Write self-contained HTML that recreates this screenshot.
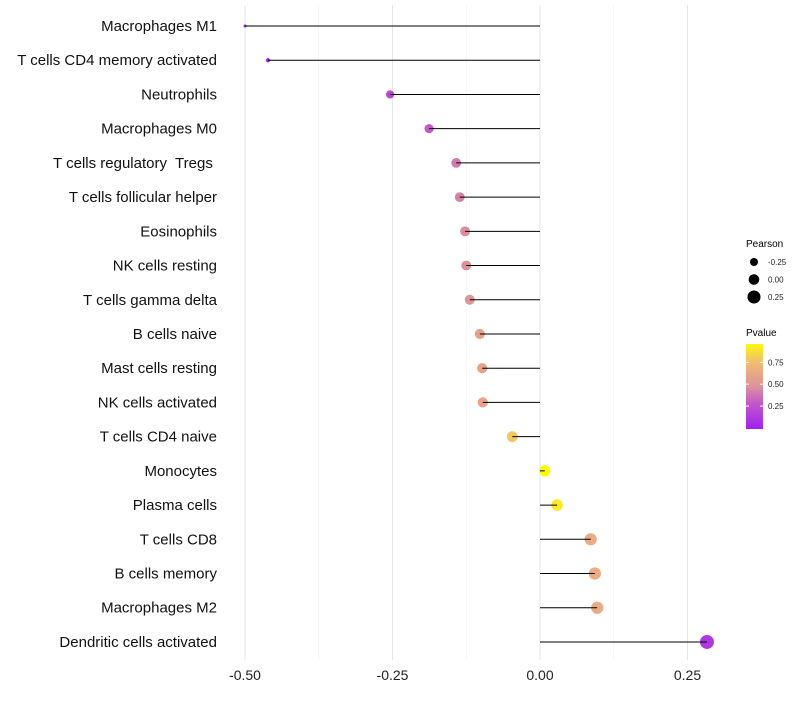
<!DOCTYPE html>
<html><head><meta charset="utf-8"><style>
body{margin:0;background:#fff;font-family:"Liberation Sans",sans-serif}
</style></head><body>
<svg id="c" width="800" height="700" xmlns="http://www.w3.org/2000/svg"></svg>
<script>
const categories=["Macrophages M1","T cells CD4 memory activated","Neutrophils","Macrophages M0","T cells regulatory  Tregs ","T cells follicular helper","Eosinophils","NK cells resting","T cells gamma delta","B cells naive","Mast cells resting","NK cells activated","T cells CD4 naive","Monocytes","Plasma cells","T cells CD8","B cells memory","Macrophages M2","Dendritic cells activated"];
const pearson=[-0.50,-0.461,-0.254,-0.188,-0.142,-0.136,-0.127,-0.125,-0.119,-0.102,-0.098,-0.097,-0.047,0.008,0.029,0.086,0.093,0.097,0.283];
const pvalue=[0.01,0.02,0.2,0.3,0.4,0.43,0.47,0.48,0.5,0.58,0.6,0.61,0.8,0.98,0.92,0.66,0.66,0.65,0.12];
const xTicks=[-0.5,-0.25,0,0.25];
const xTickLabels=["-0.50","-0.25","0.00","0.25"];
const sizeLegend=[-0.25,0,0.25];
const colorTicks=[0.25,0.5,0.75];
const NS="http://www.w3.org/2000/svg",svg=document.getElementById('c');
const x=v=>540+v*590, y=i=>26+i*34.22;
const rad=v=>{const t=(v+0.5)/0.783;return Math.sqrt(2.25+46.75*t);};
const stops=[[0,[160,32,240]],[0.3,[195,90,200]],[0.5,[222,150,150]],[0.75,[240,185,120]],[1,[255,255,0]]];
function col(p){p=Math.max(0,Math.min(1,p));for(let k=1;k<stops.length;k++){if(p<=stops[k][0]){const a=stops[k-1],b=stops[k],t=(p-a[0])/(b[0]-a[0]);return 'rgb('+a[1].map((c,j)=>Math.round(c+(b[1][j]-c)*t)).join(',')+')';}}}
function el(t,a,txt){const e=document.createElementNS(NS,t);for(const k in a)e.setAttribute(k,a[k]);if(txt!=null)e.textContent=txt;svg.appendChild(e);return e;}
for(let v=-0.5;v<=0.26;v+=0.125){const major=Math.abs((v*4)%1)<1e-6;const g=el('line',{x1:x(v),x2:x(v),y1:5,y2:660,stroke:major?'#e6e6e6':'#f0f0f0','stroke-width':major?1:0.6});

}
xTicks.forEach((v,i)=>{const t=el('text',{x:x(v),y:680,'text-anchor':'middle','font-size':14,fill:'#222'},xTickLabels[i]);

});
categories.forEach((c,i)=>{
const t=el('text',{x:217,y:y(i)+5,'text-anchor':'end','font-size':15,fill:'#111','xml:space':'preserve',style:'white-space:pre'},c);


const d=el('circle',{cx:x(pearson[i]),cy:y(i),r:rad(pearson[i]),fill:col(pvalue[i])});


const l=el('line',{x1:x(0),x2:x(pearson[i]),y1:y(i),y2:y(i),stroke:'#000','stroke-width':1});


});
let lt=el('text',{x:746,y:247,'font-size':10,fill:'#000'},'Pearson');


sizeLegend.forEach((v,i)=>{const cy=262+i*17.5;
const c=el('circle',{cx:754,cy:cy,r:[4,5.3,6.5][i],fill:'#000'});


const t=el('text',{x:768,y:cy+3,'font-size':8,fill:'#222'},['-0.25','0.00','0.25'][i]);

});
lt=el('text',{x:746,y:336,'font-size':10,fill:'#000'},'Pvalue');


const defs=el('defs',{});const g=document.createElementNS(NS,'linearGradient');g.setAttribute('id','gr');g.setAttribute('x1','0');g.setAttribute('y1','1');g.setAttribute('x2','0');g.setAttribute('y2','0');
for(let k=0;k<=10;k++){const s=document.createElementNS(NS,'stop');s.setAttribute('offset',k/10);s.setAttribute('stop-color',col(k/10*0.97));g.appendChild(s);}defs.appendChild(g);
const bar=el('rect',{x:746,y:344,width:17,height:85,fill:'url(#gr)'});


colorTicks.forEach(v=>{const cy=428-v/0.97*85;
el('line',{x1:746,x2:749,y1:cy,y2:cy,stroke:'#fff'});el('line',{x1:760,x2:763,y1:cy,y2:cy,stroke:'#fff'});
const t=el('text',{x:768,y:cy+3,'font-size':8,fill:'#222'},v.toFixed(2));

});
</script>
</body></html>
